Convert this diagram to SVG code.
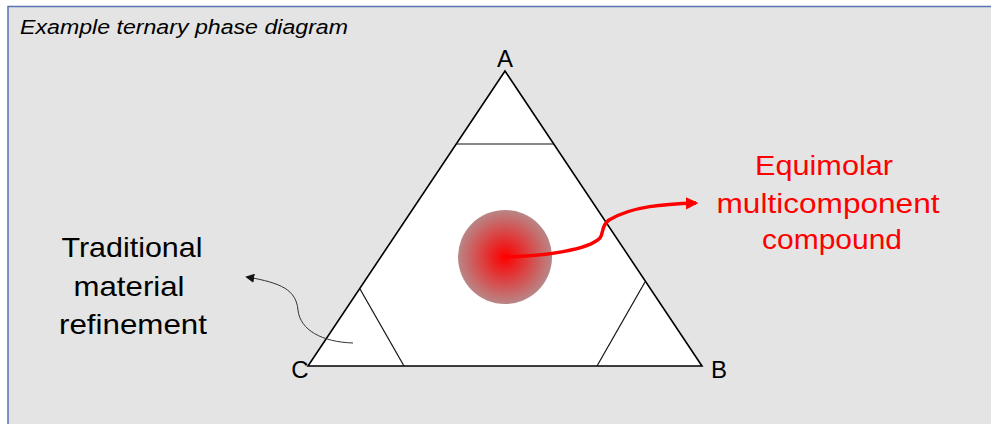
<svg xmlns="http://www.w3.org/2000/svg" width="991" height="424" viewBox="0 0 991 424">
  <defs>
    <radialGradient id="glow" cx="0.5" cy="0.5" r="0.5">
      <stop offset="0" stop-color="#ff0000"/>
      <stop offset="0.2" stop-color="#f01a1a"/>
      <stop offset="1" stop-color="#b98686"/>
    </radialGradient>
    <marker id="arrRed" viewBox="0 0 10 10" refX="8" refY="5" markerWidth="3.6" markerHeight="3.6" orient="auto" markerUnits="strokeWidth">
      <path d="M0,0 L10,5 L0,10 Z" fill="#ff0000"/>
    </marker>
    <marker id="arrBlk" viewBox="0 0 10 10" refX="8" refY="5" markerWidth="9" markerHeight="9" orient="auto" markerUnits="strokeWidth">
      <path d="M0,0 L10,5 L0,10 Z" fill="#111"/>
    </marker>
  </defs>
  <style>
    .lbl { font-family: "Liberation Sans", Arial, sans-serif; fill: #000; }
    .red { font-family: "Liberation Sans", Arial, sans-serif; fill: #ff0000; font-size: 27.5px; }
    .blk { font-family: "Liberation Sans", Arial, sans-serif; fill: #000; font-size: 28.5px; }
    .tri { fill: #ffffff; stroke: #000; stroke-width: 1.6; stroke-linejoin: miter; }
    .cut { stroke: #111; stroke-width: 1.2; fill: none; }
  </style>
  <rect x="0" y="0" width="991" height="424" fill="#ffffff"/>
  <rect id="frame" x="8" y="6.5" width="990" height="430" fill="#e4e4e4" stroke="#5574b0" stroke-width="1.5"/>
  <text id="title" class="lbl" x="20" y="34" font-size="19.5" font-style="italic" textLength="328" lengthAdjust="spacingAndGlyphs">Example ternary phase diagram</text>

  <g id="triangle">
    <polygon class="tri" points="505,71 702,366 308,366"/>
    <line class="cut" x1="457" y1="144" x2="553" y2="144"/>
    <line class="cut" x1="360" y1="289" x2="404" y2="366"/>
    <line class="cut" x1="645" y1="282" x2="597" y2="366"/>
  </g>
  <g id="label-A"><text class="lbl" x="505" y="67" font-size="24" text-anchor="middle">A</text></g>
  <g id="label-B"><text class="lbl" x="719" y="378" font-size="24" text-anchor="middle">B</text></g>
  <g id="label-C"><text class="lbl" x="300" y="378" font-size="24" text-anchor="middle">C</text></g>

  <g id="compound-circle">
    <circle cx="505" cy="257" r="47" fill="url(#glow)"/>
  </g>

  <g id="traditional">
    <text class="blk" x="132" y="257" text-anchor="middle" textLength="141" lengthAdjust="spacingAndGlyphs">Traditional</text>
    <text class="blk" x="129" y="296" text-anchor="middle" textLength="111" lengthAdjust="spacingAndGlyphs">material</text>
    <text class="blk" x="133" y="334" text-anchor="middle" textLength="148" lengthAdjust="spacingAndGlyphs">refinement</text>
  </g>

  <g id="equimolar">
    <text class="red" x="824" y="175" text-anchor="middle" textLength="138" lengthAdjust="spacingAndGlyphs">Equimolar</text>
    <text class="red" x="828" y="213" text-anchor="middle" textLength="223" lengthAdjust="spacingAndGlyphs">multicomponent</text>
    <text class="red" x="832" y="249" text-anchor="middle" textLength="140" lengthAdjust="spacingAndGlyphs">compound</text>
  </g>

  <g id="connectors">
    <path d="M505,257 C545,256 588,250 600,238 C604,232 601,226 609,220 C632,206 665,204 696,203" fill="none" stroke="#ff0000" stroke-width="3.5" marker-end="url(#arrRed)"/>
    <path d="M353,343 C322,342 300,330 298,310 C296,290 282,283 247,277" fill="none" stroke="#333" stroke-width="1" marker-end="url(#arrBlk)"/>
  </g>
</svg>
